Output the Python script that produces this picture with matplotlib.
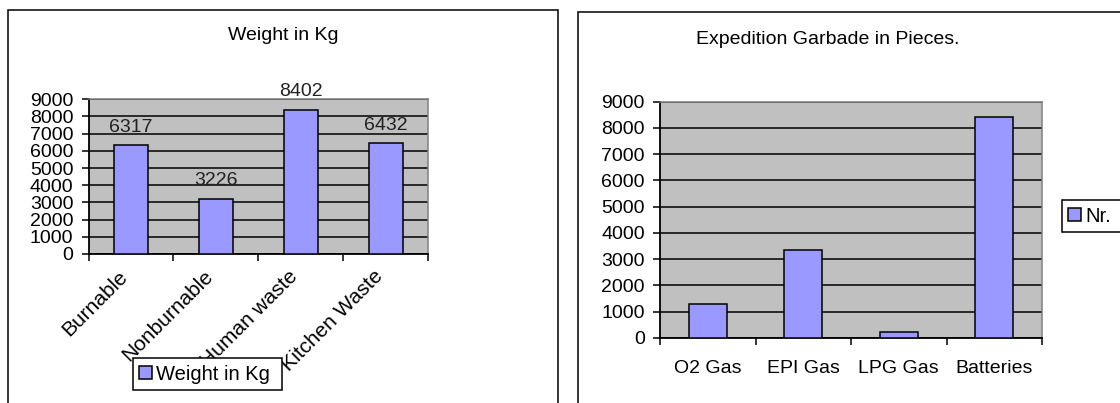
import matplotlib
matplotlib.use("Agg")
import matplotlib.pyplot as plt
from matplotlib.lines import Line2D
from matplotlib.patches import Patch
from matplotlib.transforms import ScaledTranslation
import numpy as np

# chart data
weight_categories = ["Burnable", "Nonburnable", "Human waste", "Kitchen Waste"]
weight_values = [6317, 3226, 8402, 6432]
pieces_categories = ["O2 Gas", "EPI Gas", "LPG Gas", "Batteries"]
pieces_values = [1290, 3350, 220, 8400]
y_ticks = [0, 1000, 2000, 3000, 4000, 5000, 6000, 7000, 8000, 9000]

W, H = 1120, 403
BAR_COLOR = "#9999FF"
PLOT_BG = "#C0C0C0"
FS = 14

plt.rcParams['font.family'] = ['Liberation Sans', 'DejaVu Sans']
plt.rcParams['font.size'] = FS

fig = plt.figure(figsize=(W / 100, H / 100), dpi=100)


def px_box(x0, y0, x1, y1):
    """Pixel box (top-left origin) -> figure fraction [left, bottom, w, h]."""
    return [x0 / W, 1 - y1 / H, (x1 - x0) / W, (y1 - y0) / H]


def frame(points):
    xs = [p[0] / W for p in points]
    ys = [1 - p[1] / H for p in points]
    fig.add_artist(Line2D(xs, ys, color="black", lw=1.1, transform=fig.transFigure,
                          solid_joinstyle="miter"))


def style_axes(ax, categories, values, xpad):
    n = len(categories)
    x = np.arange(n)
    ax.set_facecolor(PLOT_BG)
    ax.bar(x, values, width=0.4, color=BAR_COLOR, edgecolor="black", linewidth=1.1, zorder=3)
    ax.set_xlim(-0.5, n - 0.5)
    ax.set_ylim(0, 9000)
    ax.set_yticks(y_ticks)
    ax.yaxis.grid(True, color="black", linewidth=1.1)
    ax.set_axisbelow(True)
    ax.set_xticks(x)
    ax.set_xticks(np.arange(n + 1) - 0.5, minor=True)
    ax.tick_params(axis="x", which="major", length=0, pad=xpad)
    ax.tick_params(axis="x", which="minor", length=5, width=1.1, direction="out")
    ax.tick_params(axis="y", length=5, width=1.1, direction="out", pad=6)
    for side in ("top", "right"):
        ax.spines[side].set_color("#808080")
        ax.spines[side].set_linewidth(1.1)
    for side in ("left", "bottom"):
        ax.spines[side].set_color("black")
        ax.spines[side].set_linewidth(1.3)
    return x


def add_legend(label, box):
    leg = fig.legend(handles=[Patch(facecolor=BAR_COLOR, edgecolor="black", linewidth=1.1,
                                    label=label)],
                     loc="center left", bbox_to_anchor=tuple(box), mode="expand",
                     fancybox=False, framealpha=1, edgecolor="black", borderpad=0.3,
                     handlelength=0.65, handleheight=0.65, handletextpad=0.2,
                     borderaxespad=0, fontsize=14.5)
    leg.get_frame().set_linewidth(1.1)
    return leg


# left chart: weight in kg
frame([(8, H + 5), (8, 10), (558, 10), (558, H + 5)])
ax1 = fig.add_axes(px_box(88.6, 99.3, 428, 254))
x1 = style_axes(ax1, weight_categories, weight_values, xpad=14)
ax1.set_xticklabels(weight_categories, rotation=45, ha="right", va="center",
                    rotation_mode="anchor", fontsize=15)
shift = ScaledTranslation(-6 / 100, 0, fig.dpi_scale_trans)
for lbl in ax1.get_xticklabels():
    lbl.set_transform(lbl.get_transform() + shift)
for xi, v in zip(x1, weight_values):
    ax1.annotate(str(v), (xi, v), xytext=(0, 10), textcoords="offset points",
                 ha="center", va="baseline", fontsize=FS, color="#222222")
fig.text(283 / W, 1 - 35 / H, "Weight in Kg", ha="center", va="center", fontsize=FS)
add_legend("Weight in Kg", px_box(133, 358, 282, 390))

# right chart: expedition garbage in pieces
frame([(578, H + 5), (578, 12), (W + 5, 12)])
ax2 = fig.add_axes(px_box(660, 101.7, 1042, 338))
style_axes(ax2, pieces_categories, pieces_values, xpad=16)
ax2.set_xticklabels(pieces_categories)
fig.text(828 / W, 1 - 39 / H, "Expedition Garbade in Pieces.", ha="center", va="center",
         fontsize=FS)
add_legend("Nr.", px_box(1062, 200, 1160, 232))

fig.savefig("out.png", dpi=100)
